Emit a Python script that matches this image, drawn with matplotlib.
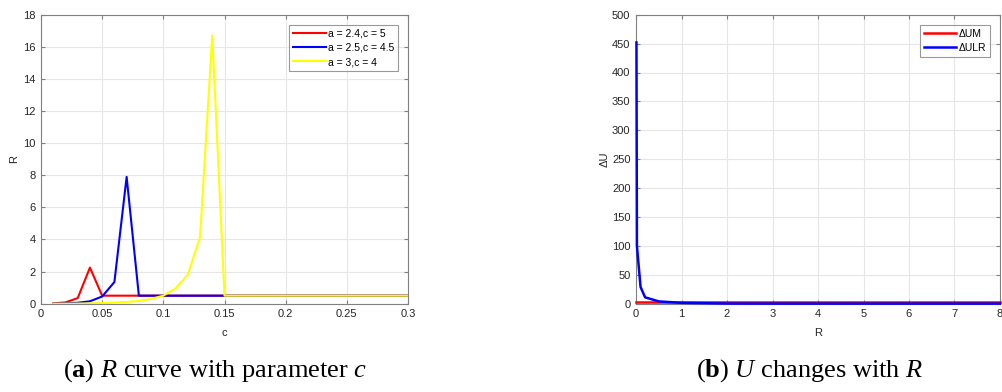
import matplotlib
matplotlib.use("Agg")
import matplotlib.pyplot as plt

plt.rcParams["font.family"] = ["Liberation Sans", "DejaVu Sans"]
plt.rcParams["mathtext.fontset"] = "custom"
plt.rcParams["mathtext.rm"] = "Liberation Serif"
plt.rcParams["mathtext.it"] = "Liberation Serif:italic"
plt.rcParams["mathtext.bf"] = "Liberation Serif:bold"

# (a) R vs c
c_vals = [round(0.01 * i, 2) for i in range(1, 31)]
r_red = [0.02, 0.08, 0.35, 2.25] + [0.5] * 26
r_blue = [0.0, 0.02, 0.06, 0.15, 0.45, 1.35, 7.9] + [0.5] * 23
r_yellow = [0.0, 0.005, 0.01, 0.02, 0.04, 0.07, 0.11, 0.17, 0.3, 0.5,
            0.95, 1.8, 4.15, 16.7] + [0.5] * 16
labels_a = ["a = 2.4,c = 5", "a = 2.5,c = 4.5", "a = 3,c = 4"]

# (b) dU vs R
r_b = [0.01, 0.02, 0.1, 0.2, 0.5, 1.0, 2, 3, 4, 5, 6, 7, 8]
du_m = [3.0] * 13
du_lr = [452, 100, 29, 11, 4, 1.5, 0.3, 0.2, 0.2, 0.2, 0.2, 0.2, 0.2]
labels_b = ["\u0394UM", "\u0394ULR"]

fig = plt.figure(figsize=(10.03, 3.92), dpi=100)
W, H = 1003, 392
axa = fig.add_axes([41 / W, 1 - 303.7 / H, 367 / W, 289 / H])
axb = fig.add_axes([636 / W, 1 - 303.7 / H, 364 / W, 289 / H])

edge = "#808080"
tick_col = "#262626"


def style(ax):
    ax.grid(True, color="#e6e6e6", linewidth=0.8)
    ax.set_axisbelow(True)
    for s in ax.spines.values():
        s.set_color(edge)
        s.set_linewidth(0.8)
    ax.tick_params(direction="in", top=True, right=True, length=3,
                   color=edge, labelsize=8, labelcolor=tick_col, pad=4)


def legend(ax):
    leg = ax.legend(loc="upper right", fontsize=7.5, frameon=True, fancybox=False,
                    edgecolor=edge, handlelength=3.1, borderaxespad=0.95,
                    handletextpad=0.2, labelspacing=0.4, borderpad=0.4)
    leg.get_frame().set_linewidth(0.8)


axa.plot(c_vals, r_red, color="#ff0000", lw=1.5, label=labels_a[0])
axa.plot(c_vals, r_blue, color="#0000ff", lw=1.5, label=labels_a[1])
axa.plot(c_vals, r_yellow, color="#ffff00", lw=1.5, label=labels_a[2])
axa.set_xlim(0, 0.3)
axa.set_ylim(0, 18)
axa.set_xticks([0, 0.05, 0.1, 0.15, 0.2, 0.25, 0.3])
axa.set_xticklabels(["0", "0.05", "0.1", "0.15", "0.2", "0.25", "0.3"])
axa.set_yticks(range(0, 19, 2))
axa.set_xlabel("c", fontsize=8, color=tick_col, labelpad=6)
axa.set_ylabel("R", fontsize=8, color=tick_col, labelpad=3)
style(axa)
legend(axa)

axb.plot(r_b, du_m, color="#ff0000", lw=1.8, label=labels_b[0], clip_on=False, zorder=3)
axb.plot(r_b, du_lr, color="#0000ff", lw=1.8, label=labels_b[1], clip_on=False, zorder=3)
axb.set_xlim(0, 8)
axb.set_ylim(0, 500)
axb.set_xticks(range(0, 9))
axb.set_yticks(range(0, 501, 50))
axb.set_xlabel("R", fontsize=8, color=tick_col, labelpad=6)
axb.set_ylabel("\u0394U", fontsize=8, color=tick_col, labelpad=2)
style(axb)
legend(axb)

fig.text(215 / W, 1 - 377 / H, r"($\mathbf{a}$) $\mathit{R}$ curve with parameter $\mathit{c}$",
         ha="center", va="baseline", fontsize=19, family="Liberation Serif")
fig.text(810 / W, 1 - 377 / H, r"($\mathbf{b}$) $\mathit{U}$ changes with $\mathit{R}$",
         ha="center", va="baseline", fontsize=19, family="Liberation Serif")

fig.savefig("out.png", dpi=100)
